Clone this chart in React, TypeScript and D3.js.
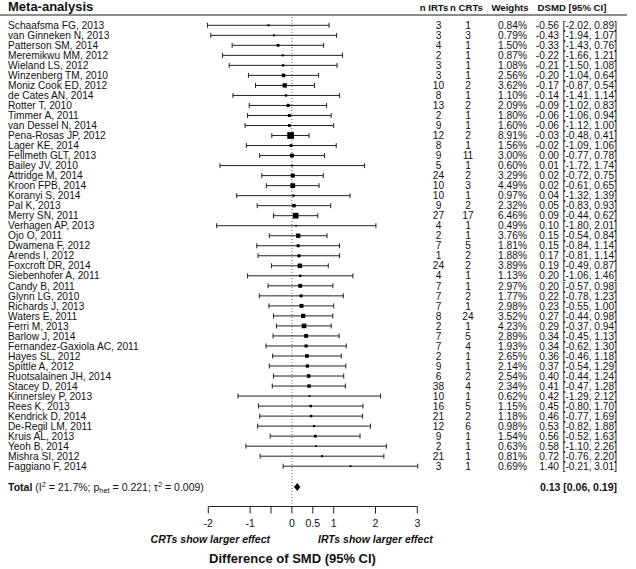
import React from "react";
import * as d3 from "d3";

// Per-study results: difference of SMD (IRTs minus CRTs) with 95% CI
const studies = [
  "Schaafsma FG, 2013", "van Ginneken N, 2013", "Patterson SM, 2014", "Meremikwu MM, 2012",
  "Wieland LS, 2012", "Winzenberg TM, 2010", "Moniz Cook ED, 2012", "de Cates AN, 2014",
  "Rotter T, 2010", "Timmer A, 2011", "van Dessel N, 2014", "Pena-Rosas JP, 2012",
  "Lager KE, 2014", "Fellmeth GLT, 2013", "Bailey JV, 2010", "Attridge M, 2014",
  "Kroon FPB, 2014", "Koranyi S, 2014", "Pal K, 2013", "Merry SN, 2011",
  "Verhagen AP, 2013", "Ojo O, 2011", "Dwamena F, 2012", "Arends I, 2012",
  "Foxcroft DR, 2014", "Siebenhofer A, 2011", "Candy B, 2011", "Glynn LG, 2010",
  "Richards J, 2013", "Waters E, 2011", "Ferri M, 2013", "Barlow J, 2014",
  "Fernandez-Gaxiola AC, 2011", "Hayes SL, 2012", "Spittle A, 2012", "Ruotsalainen JH, 2014",
  "Stacey D, 2014", "Kinnersley P, 2013", "Rees K, 2013", "Kendrick D, 2014",
  "De-Regil LM, 2011", "Kruis AL, 2013", "Yeoh B, 2014", "Mishra SI, 2012",
  "Faggiano F, 2014",
];
const nIRTs = [3, 3, 4, 2, 3, 3, 10, 8, 13, 2, 9, 12, 8, 9, 5, 24, 10, 10, 9, 27, 4, 2, 7, 1, 24, 4, 7, 7, 7, 8, 2, 7, 7, 2, 9, 6, 38, 10, 16, 21, 12, 9, 2, 21, 3];
const nCRTs = [1, 3, 1, 1, 1, 1, 2, 1, 2, 1, 1, 2, 1, 11, 1, 2, 3, 1, 2, 17, 1, 1, 5, 2, 2, 1, 1, 2, 1, 24, 1, 5, 4, 1, 1, 2, 4, 1, 5, 2, 6, 1, 1, 1, 1];
const weights = [0.84, 0.79, 1.5, 0.87, 1.08, 2.56, 3.62, 1.1, 2.09, 1.8, 1.6, 8.91, 1.56, 3.0, 0.6, 3.29, 4.49, 0.97, 2.32, 6.46, 0.49, 3.76, 1.81, 1.88, 3.89, 1.13, 2.97, 1.77, 2.98, 3.52, 4.23, 2.89, 1.93, 2.65, 2.14, 2.54, 2.34, 0.62, 1.15, 1.18, 0.98, 1.54, 0.63, 0.81, 0.69];
const dsmd = [-0.56, -0.43, -0.33, -0.22, -0.21, -0.2, -0.17, -0.14, -0.09, -0.06, -0.06, -0.03, -0.02, 0.0, 0.01, 0.02, 0.02, 0.04, 0.05, 0.09, 0.1, 0.15, 0.15, 0.17, 0.19, 0.2, 0.2, 0.22, 0.23, 0.27, 0.29, 0.34, 0.34, 0.36, 0.37, 0.4, 0.41, 0.42, 0.45, 0.46, 0.53, 0.56, 0.58, 0.72, 1.4];
const ciLow = [-2.02, -1.94, -1.43, -1.66, -1.5, -1.04, -0.87, -1.41, -1.02, -1.06, -1.12, -0.48, -1.09, -0.77, -1.72, -0.72, -0.61, -1.32, -0.83, -0.44, -1.8, -0.54, -0.84, -0.81, -0.49, -1.06, -0.57, -0.78, -0.55, -0.44, -0.37, -0.45, -0.62, -0.46, -0.54, -0.44, -0.47, -1.29, -0.8, -0.77, -0.82, -0.52, -1.1, -0.76, -0.21];
const ciHigh = [0.89, 1.07, 0.76, 1.21, 1.08, 0.64, 0.54, 1.14, 0.83, 0.94, 1.0, 0.41, 1.06, 0.78, 1.74, 0.75, 0.65, 1.39, 0.93, 0.62, 2.01, 0.84, 1.14, 1.14, 0.87, 1.46, 0.98, 1.23, 1.0, 0.98, 0.94, 1.13, 1.3, 1.18, 1.29, 1.24, 1.28, 2.12, 1.7, 1.69, 1.88, 1.63, 2.26, 2.2, 3.01];

// Pooled estimate
const pooled = { est: 0.13, lo: 0.06, hi: 0.19 };
const heterogeneity = { i2: "21.7%", p: "0.221", tau2: "0.009" };

const xTicks = [-2, -1, -0.5, 0, 0.5, 1, 2, 3];
const xTickLabels = ["-2", "-1", "", "0", "0.5", "1", "2", "3"];

const W = 636;
const H = 569;
const FONT = "'Liberation Sans', Arial, Helvetica, sans-serif";
const ROW_FONT = 10.2;

const f2 = d3.format(".2f");
const fmt = (v: number) => f2(v).replace("−", "-");

export default function App() {
  const x = d3.scaleLinear().domain([-2, 3]).range([208.3, 417.3]);
  const y = d3.scalePoint<string>().domain(studies).range([25.3, 466.2]);
  const side = (w: number) => Math.max(1.6, 2.25 * Math.sqrt(w));

  const totalY = 487;
  const axisY = 506.5;
  const capH = 2.5;

  const rows = studies.map((s, i) => ({
    name: s,
    nI: nIRTs[i],
    nC: nCRTs[i],
    w: weights[i],
    est: dsmd[i],
    lo: ciLow[i],
    hi: ciHigh[i],
    cy: y(s) as number,
  }));

  return (
    <svg
      width={W}
      height={H}
      style={{ position: "absolute", left: 0, top: 0, background: "#fff" }}
      fontFamily={FONT}
    >
      {/* header */}
      <text x={8} y={10.5} fontSize={13} fontWeight="bold" fill="#111">
        Meta-analysis
      </text>
      <g fontSize={9.6} fontWeight="bold" fill="#111" textAnchor="middle">
        <text x={434} y={10.5}>n IRTs</text>
        <text x={466.5} y={10.5}>n CRTs</text>
        <text x={510} y={10.5}>Weights</text>
        <text x={572} y={10.5}>DSMD [95% CI]</text>
      </g>
      <line x1={0} x2={627} y1={15} y2={15} stroke="#8c8c8c" strokeWidth={2} />

      {/* zero reference */}
      <line
        x1={x(0)}
        x2={x(0)}
        y1={17}
        y2={axisY}
        stroke="#444"
        strokeWidth={0.8}
        strokeDasharray="1,2"
      />

      {/* study rows */}
      <g fontSize={ROW_FONT} fill="#111">
        {rows.map((r) => (
          <g key={r.name}>
            <text x={8} y={r.cy} dy="0.36em">{r.name}</text>
            <text x={438.5} y={r.cy} dy="0.36em" textAnchor="middle">{r.nI}</text>
            <text x={468} y={r.cy} dy="0.36em" textAnchor="middle">{r.nC}</text>
            <text x={527} y={r.cy} dy="0.36em" textAnchor="end">{f2(r.w)}%</text>
            <text x={559} y={r.cy} dy="0.36em" textAnchor="end">{fmt(r.est)}</text>
            <text x={617} y={r.cy} dy="0.36em" textAnchor="end">
              [{fmt(r.lo)}, {fmt(r.hi)}]
            </text>
          </g>
        ))}
      </g>

      {/* confidence intervals and weighted squares */}
      <g stroke="#222" strokeWidth={1}>
        {rows.map((r) => (
          <g key={r.name}>
            <line x1={x(r.lo)} x2={x(r.hi)} y1={r.cy} y2={r.cy} />
            <line x1={x(r.lo)} x2={x(r.lo)} y1={r.cy - capH} y2={r.cy + capH} />
            <line x1={x(r.hi)} x2={x(r.hi)} y1={r.cy - capH} y2={r.cy + capH} />
          </g>
        ))}
      </g>
      <g fill="#000">
        {rows.map((r) => {
          const s = side(r.w);
          return (
            <rect key={r.name} x={x(r.est) - s / 2} y={r.cy - s / 2} width={s} height={s} />
          );
        })}
      </g>

      {/* pooled estimate */}
      <text x={8} y={totalY} dy="0.36em" fontSize={10.5} fill="#111">
        <tspan fontWeight="bold">Total</tspan>
        <tspan> (I</tspan>
        <tspan fontSize={7.5} dy={-4}>2</tspan>
        <tspan dy={4}>{` = ${heterogeneity.i2}; p`}</tspan>
        <tspan fontSize={7.5} dy={2}>het</tspan>
        <tspan dy={-2}>{` = ${heterogeneity.p}; τ`}</tspan>
        <tspan fontSize={7.5} dy={-4}>2</tspan>
        <tspan dy={4}>{` = ${heterogeneity.tau2})`}</tspan>
      </text>
      <path
        d={`M${x(pooled.lo)},${totalY} L${x(pooled.est)},${totalY - 3.5} L${x(pooled.hi)},${totalY} L${x(pooled.est)},${totalY + 3.5} Z`}
        fill="#000"
        stroke="#000"
        strokeWidth={0.8}
      />
      <text x={617} y={totalY} dy="0.36em" fontSize={10.5} fontWeight="bold" textAnchor="end" fill="#111">
        {`${fmt(pooled.est)} [${fmt(pooled.lo)}, ${fmt(pooled.hi)}]`}
      </text>

      {/* x axis */}
      <g stroke="#222" strokeWidth={1}>
        <line x1={x(-2)} x2={x(3)} y1={axisY} y2={axisY} />
        {xTicks.map((t) => (
          <line key={t} x1={x(t)} x2={x(t)} y1={axisY} y2={axisY + 7} />
        ))}
      </g>
      <g fontSize={10.5} fill="#111" textAnchor="middle">
        {xTicks.map((t, i) => (
          <text key={t} x={x(t)} y={527}>{xTickLabels[i]}</text>
        ))}
      </g>
      <g fontSize={10.5} fontWeight="bold" fontStyle="italic" fill="#111">
        <text x={270} y={543} textAnchor="end">CRTs show larger effect</text>
        <text x={318} y={543}>IRTs show larger effect</text>
      </g>
      <text x={292.5} y={562.5} fontSize={13} fontWeight="bold" textAnchor="middle" fill="#111">
        Difference of SMD (95% CI)
      </text>
    </svg>
  );
}
